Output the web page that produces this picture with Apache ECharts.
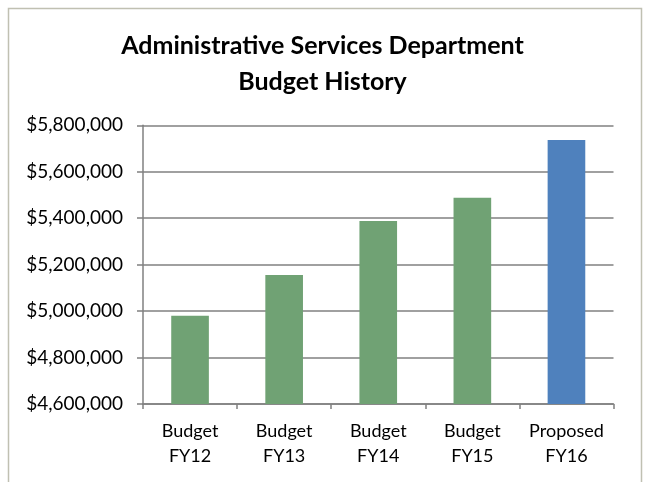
<!DOCTYPE html>
<html>
<head>
<meta charset="utf-8">
<title>Administrative Services Department Budget History</title>
<script src="https://cdn.jsdelivr.net/npm/echarts@6/dist/echarts.min.js"></script>
<style>
  html, body { margin: 0; padding: 0; background: #ffffff; }
  #chart { width: 645px; height: 482px; }
</style>
</head>
<body>
<div id="chart"></div>
<script>
// Fiscal years shown on the category axis (two-line labels)
const categories = ['Budget\nFY12', 'Budget\nFY13', 'Budget\nFY14', 'Budget\nFY15', 'Proposed\nFY16'];
// Department budget per fiscal year, in dollars
const budgets = [4980000, 5155000, 5388000, 5488000, 5737000];
// Value axis range and step
const yMin = 4600000;
const yMax = 5800000;
const yStep = 200000;

const GREEN = '#70a274';
const BLUE = '#4f81bd';
const GRID = '#808080';
const FONT = 'Lato';

const chart = echarts.init(document.getElementById('chart'), null, { renderer: 'canvas' });

chart.setOption({
  animation: false,
  backgroundColor: '#ffffff',
  title: {
    text: 'Administrative Services Department\nBudget History',
    left: 'center',
    top: 28,
    padding: 0,
    textStyle: {
      fontFamily: FONT,
      fontWeight: 'bold',
      fontSize: 25,
      lineHeight: 36,
      color: '#000000'
    }
  },
  graphic: [{
    type: 'rect',
    shape: { x: 8.5, y: 8.5, width: 633, height: 490 },
    style: { fill: 'none', stroke: '#c0c0b2', lineWidth: 1.5 },
    silent: true,
    z: -1
  }],
  grid: { left: 143, right: 31.5, top: 125.3, bottom: 78 },
  xAxis: {
    type: 'category',
    data: categories,
    axisLine: { show: true, lineStyle: { color: GRID, width: 1.5 } },
    axisTick: { show: true, length: 5, lineStyle: { color: GRID, width: 1.5 } },
    axisLabel: {
      interval: 0,
      margin: 15,
      fontFamily: FONT,
      fontSize: 18,
      lineHeight: 25,
      color: '#000000'
    }
  },
  yAxis: {
    type: 'value',
    min: yMin,
    max: yMax,
    interval: yStep,
    axisLine: { show: true, lineStyle: { color: GRID, width: 1.5 } },
    axisTick: { show: true, length: 6, lineStyle: { color: GRID, width: 1.5 } },
    splitLine: { show: true, lineStyle: { color: GRID, width: 1.5 } },
    axisLabel: {
      margin: 20,
      fontFamily: FONT,
      fontSize: 19,
      color: '#000000',
      formatter: v => '$' + v.toLocaleString('en-US')
    }
  },
  series: [{
    type: 'bar',
    data: budgets,
    barWidth: '40%',
    itemStyle: {
      color: p => categories[p.dataIndex].startsWith('Proposed') ? BLUE : GREEN
    }
  }]
});
</script>
</body>
</html>
